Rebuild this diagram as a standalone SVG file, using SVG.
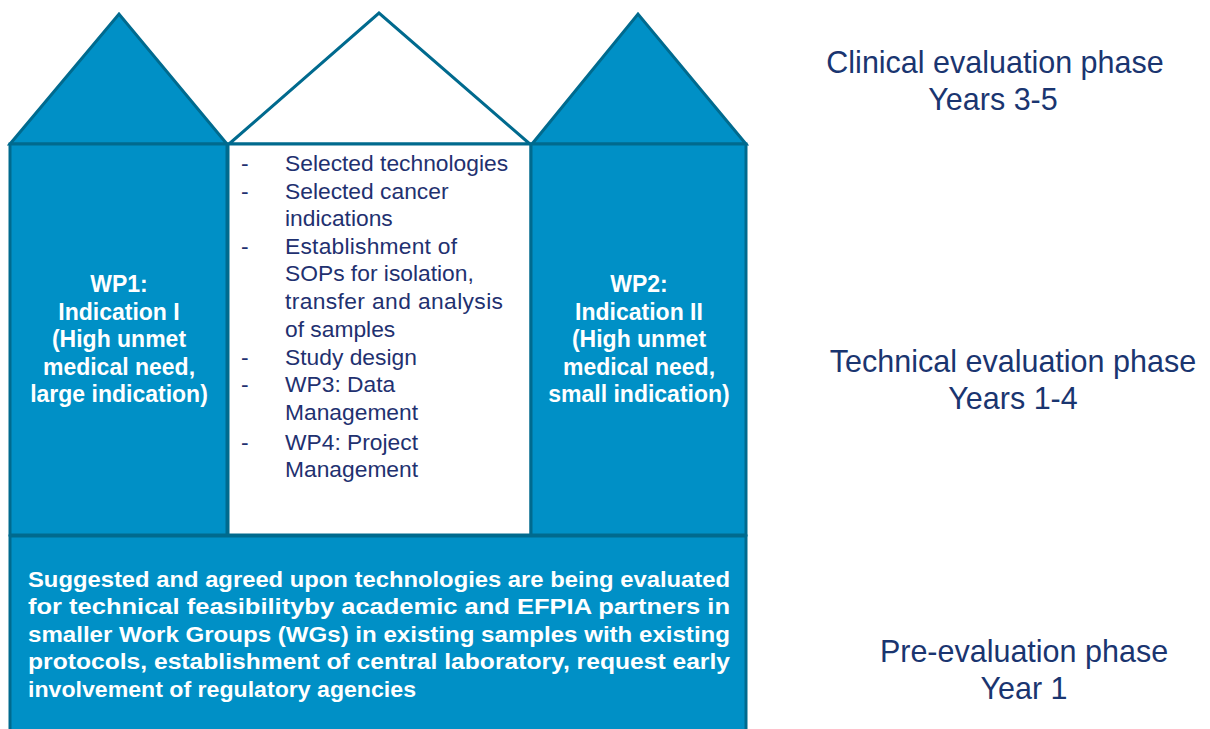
<svg xmlns="http://www.w3.org/2000/svg" width="1210" height="729" viewBox="0 0 1210 729">
<style>
.blue{fill:#0090c6;stroke:#006a8e;stroke-width:3;stroke-linejoin:miter}
.white{fill:#ffffff;stroke:#006a8e;stroke-width:3}
.wt{font-family:"Liberation Sans",Arial,sans-serif;font-weight:bold;font-size:23px;fill:#ffffff;text-anchor:middle}
.lst{font-family:"Liberation Sans",Arial,sans-serif;font-size:22.8px;fill:#1f3170}
.bt{font-family:"Liberation Sans",Arial,sans-serif;font-weight:bold;font-size:22.5px;fill:#ffffff}
.ph{font-family:"Liberation Sans",Arial,sans-serif;font-size:30.5px;fill:#1a3570;text-anchor:middle}
</style>
<rect width="1210" height="729" fill="#ffffff"/>
<g id="roof-left"><polygon class="blue" points="10,144 119,14 227,144"/></g>
<g id="roof-middle"><polygon class="white" points="229,144 379,13 530,144"/></g>
<g id="roof-right"><polygon class="blue" points="532,144 638,14 746,144"/></g>
<g id="wp1">
<rect class="blue" x="10" y="144" width="217" height="391"/>
<text class="wt" x="119" y="292">WP1:</text>
<text class="wt" x="119" y="320">Indication I</text>
<text class="wt" x="119" y="347">(High unmet</text>
<text class="wt" x="119" y="375">medical need,</text>
<text class="wt" x="119" y="402">large indication)</text>
</g>
<g id="middle">
<rect class="white" x="228" y="144" width="303" height="391"/>
<g class="lst">
<text x="241" y="171">-</text><text x="285" y="171">Selected technologies</text>
<text x="241" y="199">-</text><text x="285" y="199">Selected cancer</text>
<text x="285" y="226">indications</text>
<text x="241" y="254">-</text><text x="285" y="254" textLength="172" lengthAdjust="spacing">Establishment of</text>
<text x="285" y="281">SOPs for isolation,</text>
<text x="285" y="309" textLength="218" lengthAdjust="spacing">transfer and analysis</text>
<text x="285" y="337">of samples</text>
<text x="241" y="365">-</text><text x="285" y="365">Study design</text>
<text x="241" y="392">-</text><text x="285" y="392">WP3: Data</text>
<text x="285" y="420">Management</text>
<text x="241" y="450">-</text><text x="285" y="450">WP4: Project</text>
<text x="285" y="477">Management</text>
</g>
</g>
<g id="wp2">
<rect class="blue" x="531" y="144" width="215" height="391"/>
<text class="wt" x="639" y="292">WP2:</text>
<text class="wt" x="639" y="320">Indication II</text>
<text class="wt" x="639" y="347">(High unmet</text>
<text class="wt" x="639" y="375">medical need,</text>
<text class="wt" x="639" y="402">small indication)</text>
</g>
<g id="pre-eval">
<rect class="blue" x="10" y="536" width="736" height="200"/>
<text class="bt" x="28" y="587" textLength="702" lengthAdjust="spacingAndGlyphs">Suggested and agreed upon technologies are being evaluated</text>
<text class="bt" x="28" y="614" textLength="702" lengthAdjust="spacingAndGlyphs">for technical feasibilityby academic and EFPIA partners in</text>
<text class="bt" x="28" y="642" textLength="702" lengthAdjust="spacingAndGlyphs">smaller Work Groups (WGs) in existing samples with existing</text>
<text class="bt" x="28" y="669" textLength="702" lengthAdjust="spacingAndGlyphs">protocols, establishment of central laboratory, request early</text>
<text class="bt" x="28" y="697" textLength="388" lengthAdjust="spacingAndGlyphs">involvement of regulatory agencies</text>
</g>
<g id="labels">
<text class="ph" x="995" y="73">Clinical evaluation phase</text>
<text class="ph" x="993" y="110">Years 3-5</text>
<text class="ph" x="1013" y="372">Technical evaluation phase</text>
<text class="ph" x="1013" y="409">Years 1-4</text>
<text class="ph" x="1024" y="662">Pre-evaluation phase</text>
<text class="ph" x="1024" y="699">Year 1</text>
</g>
</svg>
